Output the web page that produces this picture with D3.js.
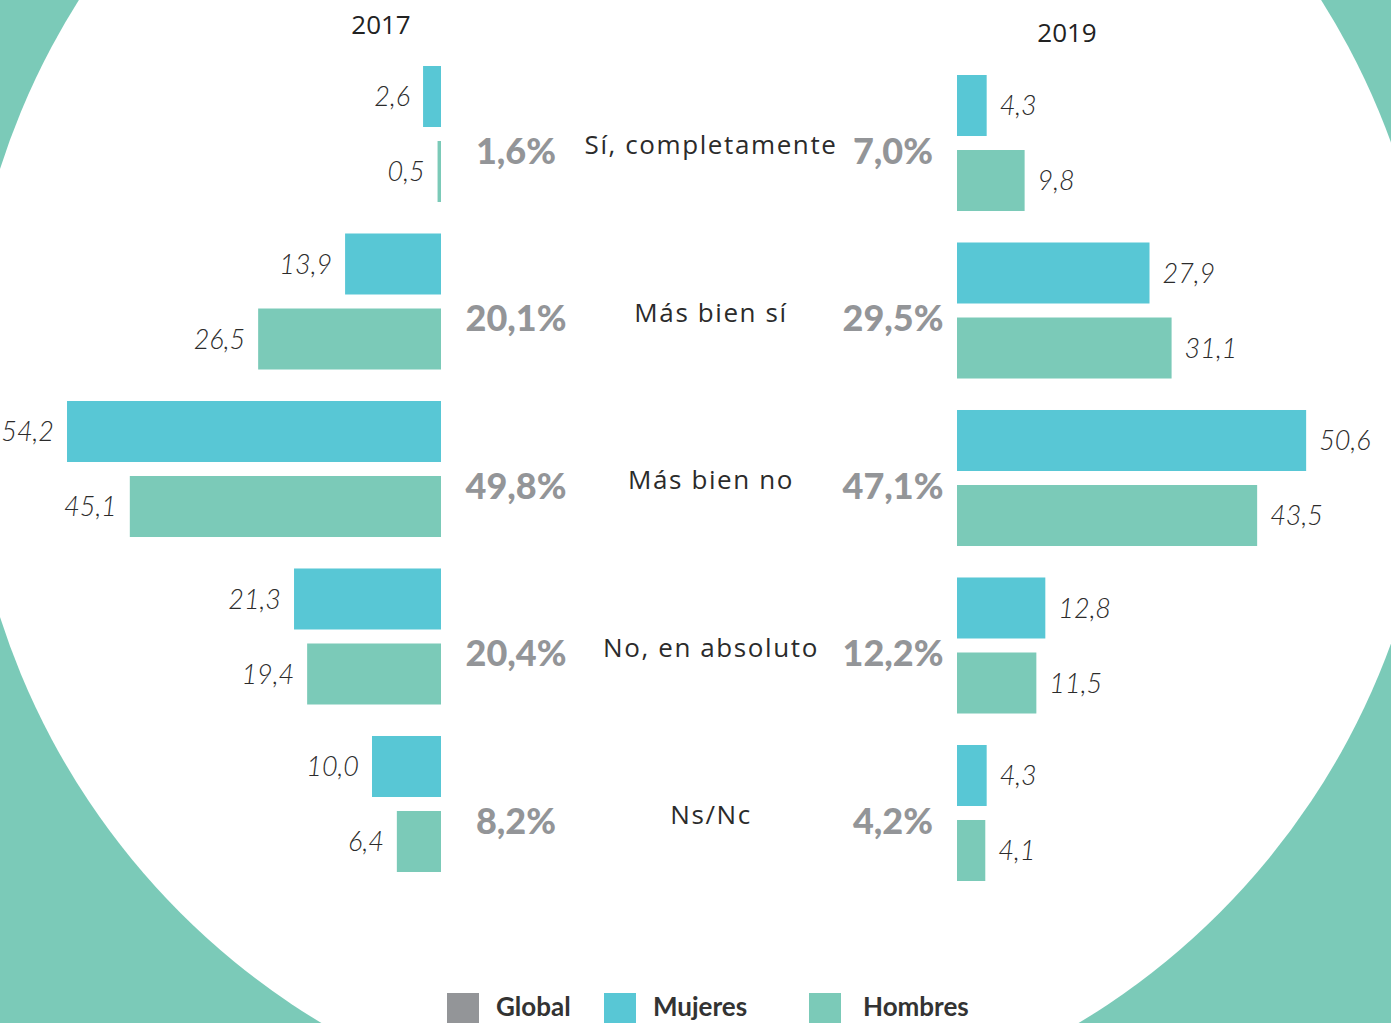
<!DOCTYPE html>
<html>
<head>
<meta charset="utf-8">
<script src="https://cdn.jsdelivr.net/npm/d3@7"></script>
<style>
  html, body { margin: 0; padding: 0; background: #fff; }
  svg { display: block; }
</style>
</head>
<body>
<svg id="chart" width="1391" height="1023"></svg>
<script>
// ---- data ----
const categories = ["Sí, completamente", "Más bien sí", "Más bien no", "No, en absoluto", "Ns/Nc"];
const genders = ["Mujeres", "Hombres"];
const mujeres2017 = [2.6, 13.9, 54.2, 21.3, 10.0];
const hombres2017 = [0.5, 26.5, 45.1, 19.4, 6.4];
const global2017 = [1.6, 20.1, 49.8, 20.4, 8.2];
const mujeres2019 = [4.3, 27.9, 50.6, 12.8, 4.3];
const hombres2019 = [9.8, 31.1, 43.5, 11.5, 4.1];
const global2019 = [7.0, 29.5, 47.1, 12.2, 4.2];
const years = ["2017", "2019"];
const legendItems = ["Global", "Mujeres", "Hombres"];

// ---- styles ----
const colors = { Global: "#939598", Mujeres: "#58C7D5", Hombres: "#7BCAB8" };
const fmt = v => v.toFixed(1).replace(".", ",");

const W = 1391, H = 1023;
const svg = d3.select("#chart");

// background
svg.append("rect").attr("width", W).attr("height", H).attr("fill", "#7BCAB8");
svg.append("circle").attr("cx", 700).attr("cy", 393).attr("r", 735).attr("fill", "#fff");

// scales
const xLeft = d3.scaleLinear().domain([0, 60]).range([441, 441 - 414]);
const xRight = d3.scaleLinear().domain([0, 60]).range([957, 957 + 414]);
const yLeft = d3.scaleBand().domain(categories).range([66, 872]).paddingInner(0.188).paddingOuter(0);
const yRight = d3.scaleBand().domain(categories).range([75, 881]).paddingInner(0.188).paddingOuter(0);
const ySub = d3.scaleBand().domain(genders).range([0, yLeft.bandwidth()]).paddingInner(0.1867).paddingOuter(0);

const numFont = "Lato, 'Open Sans', sans-serif";
const catFont = "'Open Sans', Lato, sans-serif";

function side(mArr, hArr, gArr, x, y, dir, pctX) {
  const rows = [];
  categories.forEach((c, i) => {
    rows.push({ c, g: "Mujeres", v: mArr[i] });
    rows.push({ c, g: "Hombres", v: hArr[i] });
  });
  const g = svg.append("g");
  g.selectAll("rect.bar").data(rows).join("rect")
    .attr("class", "bar")
    .attr("x", d => Math.min(x(0), x(d.v)))
    .attr("width", d => Math.abs(x(d.v) - x(0)))
    .attr("y", d => y(d.c) + ySub(d.g))
    .attr("height", ySub.bandwidth())
    .attr("fill", d => colors[d.g]);
  g.selectAll("text.val").data(rows).join("text")
    .attr("class", "val")
    .attr("x", d => x(d.v) + dir * 13)
    .attr("y", d => y(d.c) + ySub(d.g) + ySub.bandwidth() / 2)
    .attr("dy", "0.36em")
    .attr("text-anchor", dir < 0 ? "end" : "start")
    .attr("font-family", numFont)
    .attr("font-style", "italic")
    .attr("font-weight", 300)
    .attr("font-size", 27)
    .attr("fill", "#2b2b2b")
    .text(d => fmt(d.v));
  g.selectAll("text.pct").data(categories).join("text")
    .attr("class", "pct")
    .attr("x", pctX)
    .attr("y", (d) => yLeft(d) + yLeft.bandwidth() / 2 + 17)
    .attr("dy", "0.36em")
    .attr("text-anchor", "middle")
    .attr("font-family", numFont)
    .attr("font-weight", 900)
    .attr("font-size", 36)
    .attr("fill", colors.Global)
    .text((d, i) => fmt(gArr[i]) + "%");
}

side(mujeres2017, hombres2017, global2017, xLeft, yLeft, -1, 516);
side(mujeres2019, hombres2019, global2019, xRight, yRight, 1, 893);

// category labels
svg.append("g").selectAll("text").data(categories).join("text")
  .attr("x", 711)
  .attr("y", d => yLeft(d) + yLeft.bandwidth() / 2 + 11)
  .attr("dy", "0.36em")
  .attr("text-anchor", "middle")
  .attr("font-family", catFont)
  .attr("font-size", 26)
  .attr("letter-spacing", 1.6)
  .attr("fill", "#2b2b2b")
  .text(d => d);

// year labels
svg.append("text").attr("x", 381).attr("y", 25).attr("dy", "0.36em")
  .attr("text-anchor", "middle").attr("font-family", catFont).attr("font-size", 26)
  .attr("fill", "#222").text(years[0]);
svg.append("text").attr("x", 1067).attr("y", 33).attr("dy", "0.36em")
  .attr("text-anchor", "middle").attr("font-family", catFont).attr("font-size", 26)
  .attr("fill", "#222").text(years[1]);

// legend
const legX = { Global: 447, Mujeres: 604, Hombres: 809 };
const legTX = { Global: 496, Mujeres: 653, Hombres: 863 };
const leg = svg.append("g");
leg.selectAll("rect").data(legendItems).join("rect")
  .attr("x", d => legX[d]).attr("y", 993).attr("width", 32).attr("height", 32)
  .attr("fill", d => colors[d]);
leg.selectAll("text").data(legendItems).join("text")
  .attr("x", d => legTX[d]).attr("y", 1016)
  .attr("font-family", numFont).attr("font-weight", 700).attr("font-size", 26)
  .attr("fill", "#333").text(d => d);
</script>
</body>
</html>
